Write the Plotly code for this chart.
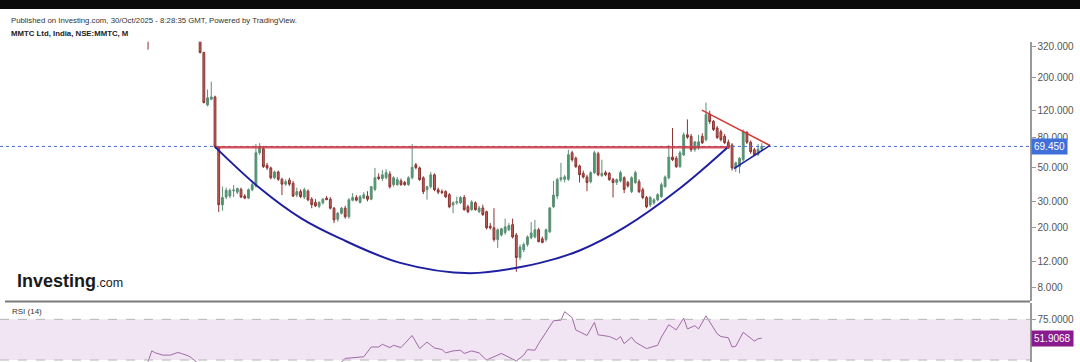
import numpy as np
import plotly.graph_objects as go

# ---------------- data ----------------
# month index: 0 = first fully visible monthly candle, 151 = Oct 2025
months = list(range(-14, 152))

opens = [400, 372, 480, 440, 410, 400, 405, 400, 430, 440,
         420, 395, 380, 372, 378, 292, 131, 143, 148, 68,
         28.4, 32, 32.5, 35.2, 34.5, 36, 32.5, 31.5, 35.8, 38,
         63, 67, 52, 50, 43, 47, 42, 39, 41.5, 39.5,
         33, 34.8, 32, 35, 31, 29.5, 27.8, 29.3, 31.5, 31,
         27, 22.8, 25, 27, 23.7, 30.5, 31.8, 29.5, 31.5, 32.5,
         31, 36, 43.5, 42.5, 43, 45.5, 38.7, 38.7, 41, 40,
         38.7, 43, 52.5, 50, 43, 35.8, 37.5, 45, 35.8, 34.8,
         34.8, 33.2, 28.4, 29.3, 29.3, 31.8, 27.6, 26.4, 29.3, 25.6,
         27.1, 25.6, 20.5, 20, 16.7, 17.9, 18.6, 19.4, 21, 17.9,
         12.7, 14.3, 15.5, 17.2, 17.4, 19.4, 16.9, 16.7, 18.8, 27.6,
         32.5, 41.8, 42, 42, 63, 58, 51.5, 46, 43.5, 40.5,
         46.5, 62, 44.5, 46.5, 46, 41.8, 40, 41, 43, 40,
         34.8, 40, 40.5, 35.8, 31.8, 28.4, 29.3, 30.7, 32.2, 37.5,
         43, 59, 58, 51, 61, 83, 81, 66, 68, 81,
         77, 114, 102, 92, 87, 81, 74, 71, 50, 51,
         56.7, 86, 74, 66, 61.5, 66.5]
highs = [430, 520, 500, 470, 440, 430, 440, 450, 460, 455,
         430, 410, 400, 395, 385, 296, 166, 187, 151, 69.5,
         37.5, 37, 36.5, 38.5, 37, 37, 33.5, 36.5, 40, 72,
         73, 70, 54, 51, 48, 48, 43, 42, 43, 41,
         37, 36, 37, 36, 32, 31, 30, 31.5, 32.5, 32,
         27.5, 25.5, 27.5, 28, 31.5, 34, 33, 33, 34.5, 35,
         38, 50, 46, 48.5, 49, 47.5, 44, 43.5, 42.5, 41,
         44, 72, 54, 51, 44, 38, 47, 46, 37, 36,
         35.5, 34, 30, 32.2, 32.5, 33, 28.5, 30.5, 30, 28,
         28.5, 26, 21.5, 27, 19.8, 20, 23, 21.5, 23, 18.5,
         15.5, 16, 17.8, 21.8, 22.6, 20, 17.5, 19.8, 27.5, 41,
         43, 54, 45, 66, 65, 59.5, 52.5, 48, 45, 47.5,
         65, 64, 56.7, 48, 47, 43, 42.5, 48, 44, 41,
         44, 48, 42, 37, 32.5, 32.5, 31.5, 34, 40, 44.5,
         71, 92, 60, 65, 86, 105, 84, 75, 83, 85,
         136, 120, 104, 95, 90, 84, 77, 73, 55, 59,
         90, 88, 76, 68, 72, 73]
lows = [305, 365, 420, 400, 395, 380, 390, 395, 410, 400,
        385, 370, 362, 360, 288, 134, 128, 141, 68, 25.5,
        26, 31, 31.5, 32, 33.5, 31.5, 31, 31, 35, 37,
        61, 50, 48.5, 42, 42, 41, 33, 38, 38, 32,
        32, 31.5, 31, 30, 27, 27.5, 27, 28.5, 30.5, 26.5,
        21.5, 22, 24.5, 23, 23, 30, 30, 29, 31, 30,
        30.5, 35, 41.5, 41, 42, 36.5, 37.5, 38, 38, 38,
        38, 42, 49, 41, 33.5, 30.8, 36.5, 35, 33.5, 33.5,
        31.5, 27, 25, 28.5, 28.8, 26, 25, 26, 26, 25,
        24, 19.5, 19.5, 16.2, 14.7, 17.5, 18, 19, 17, 10.2,
        12.2, 13.8, 15, 16.8, 17, 16, 15.8, 16.2, 18.5, 27,
        31, 40.5, 40, 41, 55, 50, 40, 42.5, 35, 39.5,
        45.5, 44, 43.5, 44, 41, 31.8, 38.5, 40, 34, 37,
        34, 39, 34, 31, 27, 27.5, 28.5, 30, 31.5, 37,
        42, 55.5, 50, 50, 60, 78, 64, 64, 66, 72,
        75, 98, 88, 78, 75, 72, 67, 48, 47, 46,
        55, 72, 62, 60, 60, 65]
closes = [372, 480, 440, 410, 400, 405, 400, 430, 440, 420,
          395, 380, 372, 378, 292, 136, 146, 148, 69, 28.5,
          31.8, 35.5, 35.5, 35.6, 36.5, 32, 31.5, 35.8, 38.7, 63,
          68, 51, 50, 43, 47, 42, 39, 40.5, 39, 32.5,
          34.8, 32.2, 35.8, 30.7, 28.5, 28, 29.5, 31, 30.8, 27,
          22.6, 25, 27, 23.7, 30.7, 31.8, 30.5, 32.2, 33.2, 31,
          37.5, 43, 42.5, 45, 46.5, 37.5, 43, 41.8, 38.7, 38.7,
          43, 50.5, 50.2, 41.8, 34.8, 37.5, 45, 35.8, 34.5, 34.3,
          32.2, 27.6, 29.3, 29.8, 31.8, 26.4, 25.6, 29.7, 26.4, 27.1,
          24.5, 20, 20, 16.7, 19.4, 19.7, 20.3, 20.7, 17.4, 12.7,
          14.9, 15.5, 17.4, 18.5, 19.4, 16.2, 16, 19.4, 27.1, 33,
          41.8, 43, 43.6, 61.2, 56.7, 51, 45, 43.5, 40, 46.5,
          63, 45, 46, 45, 41.8, 40, 41.8, 46.5, 36, 38,
          43, 46.5, 34.8, 31.8, 27.6, 31.8, 30.7, 33.2, 38.7, 43.5,
          59, 56.7, 51, 63, 83, 80, 66, 74.5, 74.5, 73.5,
          113, 101.5, 90, 79.5, 77, 73.6, 69, 50, 54, 58,
          87, 74, 64, 61, 66.5, 69.45]

rsi_month = [-14, -13, -12, -10, -8, -6, -5, -3, -1,
             2, 8, 14, 20, 26, 32, 37,
             39, 43, 44, 46, 48, 49, 51, 52, 54,
             57, 59, 61, 63, 65, 66, 68, 70, 71, 73, 75, 77, 79, 81,
             85, 87, 88, 90, 91, 93, 95, 97, 98, 100, 101, 104, 106, 107,
             110, 112, 113, 114, 116, 117, 120, 123, 124, 126, 128, 130, 131, 133, 134, 136,
             139, 140, 142, 143, 144, 146, 147, 149, 150, 151]
rsi_value = [22.9, 36.2, 33.8, 31.0, 31.0, 34.3, 33.0, 29.8, 22.9,
             12, 16, 20, 17, 14, 18, 18,
             27.0, 28.2, 29.0, 41.0, 41.0, 44.3, 40.3, 43.1, 40.3,
             55.1, 39.1, 47.0, 39.8, 37.9, 33.8, 36.2, 37.0, 33.1, 36.2, 33.8, 25.0, 29.0, 33.1,
             23.8, 31.0, 37.9, 37.0, 45.1, 59.1, 73.2, 74.0, 84.4, 77.2, 62.0, 55.1, 71.1, 56.0,
             53.9, 49.9, 53.9, 45.1, 53.1, 47.0, 39.1, 43.1, 53.1, 68.4, 62.0, 76.4, 63.2, 67.2, 63.2, 79.2,
             57.2, 53.9, 52.3, 41.0, 41.9, 59.1, 55.1, 48.2, 51.1, 51.9068]

price_ticks = [8, 12, 20, 30, 50, 80, 120, 200, 320]
price_tick_labels = ["8.000", "12.000", "20.000", "30.000", "50.000",
                     "80.000", "120.000", "200.000", "320.000"]
rsi_ticks = [75]
rsi_tick_labels = ["75.0000"]
rsi_band = [25, 75]

last_price = 69.45
last_rsi = 51.9068

# drawn pattern lines (month index, price)
neck_month = [4, 142.5]
neck_price = [68.6, 68.6]
cup_month = [4.0, 16.1, 27.3, 37.6, 53.8, 72.6, 91.4, 102.2, 114.2, 129.0, 141.7]
cup_price = [69, 36.6, 23, 17, 11.7, 10.0, 11.7, 14.2, 20.2, 36.6, 68]
tri_upper_month = [134.9, 153.2]
tri_upper_price = [121, 70.5]
tri_lower_month = [143.5, 153.2]
tri_lower_price = [49.4, 70.5]

assert len(opens) == len(highs) == len(lows) == len(closes) == len(months)
assert len(rsi_month) == len(rsi_value)

# ---------------- figure ----------------
W, H = 1080, 362
PLOT_W = 1030
X_RANGE = [-53.8, 223.1]
FONT = "Liberation Sans, Arial, sans-serif"
AX_COLOR = "#9a9a9a"

fig = go.Figure()

# last-price dotted line (drawn first so the red neckline sits over it)
fig.add_trace(go.Scatter(x=X_RANGE, y=[last_price, last_price], mode="lines",
                         line=dict(color="#4a6fd0", width=1, dash="dot"),
                         xaxis="x", yaxis="y", showlegend=False, hoverinfo="skip"))

fig.add_trace(go.Candlestick(
    x=months, open=opens, high=highs, low=lows, close=closes,
    increasing=dict(line=dict(color="#5e8f76", width=1), fillcolor="#3f9c6d"),
    decreasing=dict(line=dict(color="#8a3330", width=1), fillcolor="#c4625b"),
    whiskerwidth=0, xaxis="x", yaxis="y", showlegend=False, hoverinfo="skip"))

fig.add_trace(go.Scatter(x=neck_month, y=neck_price, mode="lines",
                         line=dict(color="rgba(205,55,65,0.85)", width=2.5),
                         xaxis="x", yaxis="y", showlegend=False, hoverinfo="skip"))
fig.add_trace(go.Scatter(x=cup_month, y=cup_price, mode="lines",
                         line=dict(color="#1f1fa3", width=2, shape="spline", smoothing=1.0),
                         xaxis="x", yaxis="y", showlegend=False, hoverinfo="skip"))
fig.add_trace(go.Scatter(x=tri_upper_month, y=tri_upper_price, mode="lines",
                         line=dict(color="#d23a32", width=1.6),
                         xaxis="x", yaxis="y", showlegend=False, hoverinfo="skip"))
fig.add_trace(go.Scatter(x=tri_lower_month, y=tri_lower_price, mode="lines",
                         line=dict(color="#1f1fa3", width=1.6),
                         xaxis="x", yaxis="y", showlegend=False, hoverinfo="skip"))

fig.add_trace(go.Scatter(x=rsi_month, y=rsi_value, mode="lines",
                         line=dict(color="#a06aa6", width=1),
                         xaxis="x2", yaxis="y2", showlegend=False, hoverinfo="skip"))

price_top_px, price_bot_px = 41.7, 301.0
rsi_top_px = 302.5
price_top_val, price_bot_val = 344.6, 6.53

axis_common = dict(side="right", showgrid=False, zeroline=False, showline=True,
                   linecolor=AX_COLOR, linewidth=1.5, ticks="outside", ticklen=4,
                   tickcolor=AX_COLOR, tickfont=dict(family=FONT, size=10, color="#555555"))

fig.update_layout(
    width=W, height=H,
    margin=dict(l=0, r=W - PLOT_W, t=0, b=0),
    paper_bgcolor="white", plot_bgcolor="white", showlegend=False,
    xaxis=dict(range=X_RANGE, visible=False, rangeslider=dict(visible=False),
               domain=[0, 1], anchor="y"),
    xaxis2=dict(range=X_RANGE, visible=False, domain=[0, 1], anchor="y2"),
    yaxis=dict(type="log", range=[np.log10(price_bot_val), np.log10(price_top_val)],
               domain=[1 - price_bot_px / H, 1 - price_top_px / H], anchor="x",
               tickvals=price_ticks, ticktext=price_tick_labels, **axis_common),
    yaxis2=dict(range=[22.56, 95.7], domain=[0, 1 - rsi_top_px / H], anchor="x2",
                tickvals=rsi_ticks, ticktext=rsi_tick_labels, **axis_common),
)

shapes = [
    # top black bar
    dict(type="rect", xref="paper", yref="paper", x0=-0.01, x1=W / PLOT_W + 0.01,
         y0=1 - 9 / H, y1=1.01, fillcolor="#0b0b0b", line=dict(width=0), layer="above"),
    # pane separator
    dict(type="line", xref="paper", yref="paper", x0=5 / PLOT_W, x1=1,
         y0=1 - 301.5 / H, y1=1 - 301.5 / H, line=dict(color="#7b7b7b", width=2)),
    # RSI band
    dict(type="rect", xref="paper", yref="y2", x0=0, x1=1, y0=rsi_band[0], y1=rsi_band[1],
         fillcolor="#f1e5f3", line=dict(width=0), layer="below"),
    dict(type="line", xref="paper", yref="y2", x0=0, x1=1, y0=rsi_band[0], y1=rsi_band[0],
         line=dict(color="#b5b5b5", width=1, dash="dash")),
    dict(type="line", xref="paper", yref="y2", x0=0, x1=1, y0=rsi_band[1], y1=rsi_band[1],
         line=dict(color="#b5b5b5", width=1, dash="dash")),
]
fig.update_layout(shapes=shapes)

annotations = [
    dict(xref="paper", yref="paper", x=9 / PLOT_W, y=1 - 20.5 / H, xanchor="left", yanchor="middle",
         text="Published on Investing.com, 30/Oct/2025 - 8:28:35 GMT, Powered by TradingView.",
         showarrow=False, font=dict(family=FONT, size=7.8, color="#333333")),
    dict(xref="paper", yref="paper", x=9 / PLOT_W, y=1 - 33.5 / H, xanchor="left", yanchor="middle",
         text="<b>MMTC Ltd, India, NSE:MMTC, M</b>",
         showarrow=False, font=dict(family=FONT, size=7.8, color="#222222")),
    dict(xref="paper", yref="paper", x=15 / PLOT_W, y=1 - 281 / H, xanchor="left", yanchor="middle",
         text="<b>Investing</b><span style='font-size:12.5px'>.com</span>",
         showarrow=False, font=dict(family=FONT, size=18, color="#1a1a1a")),
    dict(xref="paper", yref="paper", x=10 / PLOT_W, y=1 - 311.5 / H, xanchor="left", yanchor="middle",
         text="RSI (14)", showarrow=False, font=dict(family=FONT, size=8, color="#333333")),
    # last price label
    dict(xref="paper", yref="y", x=1, y=np.log10(last_price), xanchor="left", yanchor="middle",
         xshift=1, text="69.450", showarrow=False, bgcolor="#3f6fd8", borderpad=2,
         font=dict(family=FONT, size=10, color="white")),
    # last RSI label
    dict(xref="paper", yref="y2", x=1, y=last_rsi, xanchor="left", yanchor="middle",
         xshift=1, text="51.9068", showarrow=False, bgcolor="#8a1a8e", borderpad=2,
         font=dict(family=FONT, size=10, color="white")),
]
fig.update_layout(annotations=annotations)

# remove the browser's default 8px page margin so the figure sits at (0, 0)
fig.write_html("out.html",
               config={"displayModeBar": False, "staticPlot": True},
               post_script="document.body.style.margin='0';document.body.style.overflow='hidden';")
